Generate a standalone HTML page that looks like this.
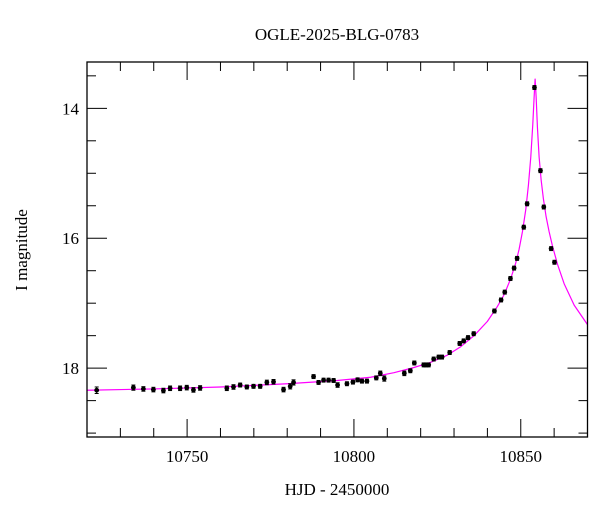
<!DOCTYPE html>
<html><head><meta charset="utf-8"><style>
body{margin:0;background:#fff}
svg text{font-family:"Liberation Serif",serif;fill:#000}
</style></head><body>
<svg id="chart" width="600" height="512" viewBox="0 0 600 512" xmlns="http://www.w3.org/2000/svg">
<text x="337" y="40" font-size="17" text-anchor="middle">OGLE-2025-BLG-0783</text>
<g id="axes"></g>
<g id="model"></g>
<g id="points"></g>
<rect x="87" y="62" width="500.5" height="375" fill="none" stroke="#000" stroke-width="1.3"/>
<text x="337" y="495" font-size="17" text-anchor="middle">HJD - 2450000</text>
<text x="27" y="250" font-size="17" text-anchor="middle" transform="rotate(-90 27 250)">I magnitude</text>
</svg>
<script>
const xTicks=[10750,10800,10850];
const yTicks=[14,16,18];
const obsT=[10722.9,10733.9,10736.9,10739.9,10742.9,10744.9,10747.9,10749.9,10751.9,10753.9,10761.9,10763.9,10765.9,10767.9,10769.9,10771.9,10773.9,10775.9,10778.9,10780.9,10781.9,10787.9,10789.4,10790.9,10792.4,10793.9,10795.1,10797.9,10799.7,10801.1,10802.4,10803.9,10806.7,10807.9,10809.1,10815.1,10816.9,10818.1,10820.9,10821.6,10822.4,10823.9,10825.4,10826.4,10828.7,10831.7,10832.9,10834.2,10835.9,10842.1,10844.1,10845.2,10846.9,10848.0,10848.9,10850.9,10851.9,10854.1,10855.9,10856.9,10859.1,10860.1];
const obsMag=[18.34,18.30,18.32,18.33,18.345,18.31,18.31,18.30,18.335,18.305,18.31,18.29,18.26,18.29,18.28,18.28,18.22,18.21,18.33,18.28,18.22,18.13,18.22,18.185,18.185,18.19,18.26,18.24,18.215,18.18,18.2,18.2,18.15,18.08,18.16,18.08,18.04,17.92,17.95,17.95,17.95,17.86,17.83,17.83,17.76,17.62,17.58,17.53,17.47,17.12,16.95,16.83,16.62,16.46,16.31,15.83,15.47,13.68,14.96,15.52,16.16,16.37];
const obsErr=[0.05,0.04,0.035,0.035,0.035,0.035,0.035,0.035,0.035,0.035,0.035,0.035,0.03,0.03,0.03,0.03,0.035,0.035,0.035,0.04,0.04,0.03,0.03,0.03,0.03,0.03,0.035,0.03,0.03,0.03,0.03,0.03,0.03,0.035,0.04,0.035,0.03,0.03,0.03,0.03,0.03,0.03,0.03,0.03,0.03,0.03,0.03,0.03,0.03,0.03,0.03,0.03,0.03,0.03,0.03,0.03,0.03,0.03,0.03,0.03,0.03,0.03];
const modelT=[10720,10740,10760,10780,10795,10805,10812,10818,10823,10828,10832,10836,10840,10843,10845,10847,10848.5,10849.5,10850.5,10851.5,10852.3,10853,10853.6,10854.0,10854.3,10854.6,10855.0,10855.5,10856.1,10856.8,10857.6,10858.5,10859.5,10861,10863,10866,10870];
const modelMag=[18.34,18.32,18.29,18.24,18.19,18.14,18.07,17.99,17.91,17.8,17.67,17.5,17.28,17.05,16.87,16.62,16.38,16.17,15.9,15.56,15.18,14.75,14.25,13.83,13.55,13.82,14.3,14.75,15.1,15.4,15.67,15.9,16.12,16.4,16.7,17.03,17.33];
const X0=87,X1=587.5,Y0=62,Y1=437,TMIN=10720,TMAX=10870,MTOP=13.287,MBOT=19.06;
const sx=t=>X0+(t-TMIN)/(TMAX-TMIN)*(X1-X0);
const sy=m=>Y0+(m-MTOP)/(MBOT-MTOP)*(Y1-Y0);
const NS='http://www.w3.org/2000/svg';
function mk(tag,attrs,parent){const e=document.createElementNS(NS,tag);for(const k in attrs)e.setAttribute(k,attrs[k]);parent.appendChild(e);return e;}
const axes=document.getElementById('axes');
for(let t=10720;t<=10870;t+=10){
  const maj=xTicks.includes(t);const L=maj?18:9;const x=sx(t);
  const a=mk('line',{x1:x,x2:x,y1:Y1,y2:Y1-L,stroke:'#000','stroke-width':1},axes);
  
  
  const b=mk('line',{x1:x,x2:x,y1:Y0,y2:Y0+L,stroke:'#000','stroke-width':1},axes);
  
  
}
xTicks.forEach(t=>{const e=mk('text',{x:sx(t),y:462,'font-size':17,'text-anchor':'middle'},axes);e.textContent=t;
  
  });
for(let m=13.5;m<=19.01;m+=0.5){
  const maj=yTicks.includes(m);const L=maj?20:9;const y=sy(m);
  const a=mk('line',{x1:X0,x2:X0+L,y1:y,y2:y,stroke:'#000','stroke-width':1},axes);
  
  
  const b=mk('line',{x1:X1,x2:X1-L,y1:y,y2:y,stroke:'#000','stroke-width':1},axes);
  
  
}
yTicks.forEach(m=>{const e=mk('text',{x:79,y:sy(m)+6,'font-size':17,'text-anchor':'end'},axes);e.textContent=m;
  
  });
const model=document.getElementById('model');
const pl=mk('polyline',{points:modelT.map((t,i)=>sx(t).toFixed(2)+','+sy(modelMag[i]).toFixed(2)).join(' '),fill:'none',stroke:'#ff00ff','stroke-width':1.2,'stroke-linejoin':'round'},model);


const pts=document.getElementById('points');
obsT.forEach((t,i)=>{
  const x=sx(t),y=sy(obsMag[i]),e=obsErr[i];const g=mk('g',{},pts);
  
  
  const y1=sy(obsMag[i]-e),y2=sy(obsMag[i]+e);
  mk('line',{x1:x,x2:x,y1:y1,y2:y2,stroke:'#000','stroke-width':1},g);
  mk('line',{x1:x-2,x2:x+2,y1:y1,y2:y1,stroke:'#000','stroke-width':1},g);
  mk('line',{x1:x-2,x2:x+2,y1:y2,y2:y2,stroke:'#000','stroke-width':1},g);
  mk('circle',{cx:x,cy:y,r:2.4,fill:'#000'},g);
});
</script>
</body></html>
